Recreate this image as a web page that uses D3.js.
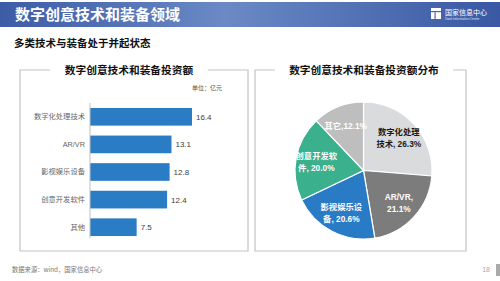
<!DOCTYPE html>
<html>
<head>
<meta charset="utf-8">
<script src="https://cdn.jsdelivr.net/npm/d3@7"></script>
<style>
  body { margin: 0; background: #fff; }
  svg { display: block; font-family: "Noto Sans CJK SC", "Noto Sans", sans-serif; }
</style>
</head>
<body>
<div id="chart"></div>
<script>
// data
const barCategories = ['数字化处理技术', 'AR/VR', '影视娱乐设备', '创意开发软件', '其他'];
const barValues = [16.4, 13.1, 12.8, 12.4, 7.5];

const pieCategories = ['数字化处理技术', 'AR/VR', '影视娱乐设备', '创意开发软件', '其它'];
const pieShares = [26.3, 21.1, 20.6, 20.0, 12.1];
const pieLabelLines = [
  ['数字化处理', '技术, 26.3%'],
  ['AR/VR,', '21.1%'],
  ['影视娱乐设', '备, 20.6%'],
  ['创意开发软', '件, 20.0%'],
  ['其它,12.1%']
];

const W = 500, H = 281;
const latin = '"Liberation Sans", "Noto Sans CJK SC", sans-serif';
const svg = d3.select('#chart').append('svg')
  .attr('width', W).attr('height', H);

// 1. header band
const defs = svg.append('defs');
const grad = defs.append('linearGradient').attr('id', 'hdr');
grad.append('stop').attr('offset', '0%').attr('stop-color', '#3d5ca6');
grad.append('stop').attr('offset', '45%').attr('stop-color', '#6a89c5');
grad.append('stop').attr('offset', '100%').attr('stop-color', '#3a58a3');

svg.append('rect').attr('x', 0).attr('y', 2).attr('width', W).attr('height', 25)
  .attr('fill', 'url(#hdr)');
svg.append('text').attr('x', 15).attr('y', 20)
  .attr('fill', '#fff').attr('font-size', 15).attr('font-weight', 'bold')
  .text('数字创意技术和装备领域');

// logo
const logo = svg.append('g').attr('transform', 'translate(431,8)');
logo.append('rect').attr('x', 0).attr('y', 0).attr('width', 10).attr('height', 11).attr('fill', '#fff');
logo.append('rect').attr('x', 0).attr('y', 3).attr('width', 10).attr('height', 1.2).attr('fill', '#4a6ab0');
logo.append('rect').attr('x', 3.5).attr('y', 4.2).attr('width', 1.2).attr('height', 7).attr('fill', '#4a6ab0');
logo.append('text').attr('x', 14).attr('y', 6.5).attr('fill', '#fff')
  .attr('font-size', 7).text('国家信息中心');
logo.append('text').attr('x', 14).attr('y', 11.5).attr('fill', '#dfe6f5')
  .attr('font-size', 3).text('State Information Center');

// subtitle
svg.append('text').attr('x', 14).attr('y', 47)
  .attr('fill', '#111').attr('font-size', 10.5).attr('font-weight', 'bold')
  .text('多类技术与装备处于并起状态');

// 2. panel frames
function frame(x0, x1, y0, y1, gapL, gapR, title, cx) {
  const g = svg.append('g').attr('fill', 'none').attr('stroke', '#c4c4c4').attr('stroke-width', 1.2);
  g.append('path').attr('d', `M${gapL},${y0} H${x0} V${y1} H${x1} V${y0} H${gapR}`);
  svg.append('text').attr('x', cx).attr('y', y0 + 4)
    .attr('text-anchor', 'middle').attr('fill', '#111')
    .attr('font-size', 10.7).attr('font-weight', 'bold').text(title);
}
frame(20, 248, 70, 251, 50, 208, '数字创意技术和装备投资额', 129);
frame(255, 466, 70, 251, 275, 453, '数字创意技术和装备投资额分布', 364);

// 3. bar chart
const x = d3.scaleLinear().domain([0, 16.4]).range([90, 192]);
const y = d3.scaleBand().domain(barCategories).range([103, 241]).paddingInner(0.36).paddingOuter(0.18);

svg.append('text').attr('x', 222).attr('y', 90).attr('text-anchor', 'end')
  .attr('fill', '#555').attr('font-size', 6).text('单位：亿元');

svg.selectAll('.bar').data(barValues).enter().append('rect')
  .attr('x', x(0))
  .attr('y', (d, i) => y(barCategories[i]))
  .attr('width', d => x(d) - x(0))
  .attr('height', y.bandwidth())
  .attr('fill', '#2a7dc5');

const yAxis = svg.append('g').attr('transform', `translate(${x(0)},0)`)
  .call(d3.axisLeft(y).tickSize(0).tickPadding(5));
yAxis.select('.domain').attr('stroke', '#bfbfbf').attr('d', 'M0,103V238');
yAxis.selectAll('text').attr('fill', '#666').attr('font-size', 7.3)
  .attr('font-family', latin);

svg.selectAll('.val').data(barValues).enter().append('text')
  .attr('x', d => x(d) + 4)
  .attr('y', (d, i) => y(barCategories[i]) + y.bandwidth() / 2 + 3)
  .attr('fill', '#404040').attr('font-size', 8).attr('font-family', latin)
  .text(d => d.toFixed(1));

// 4. pie chart
const pieColors = ['#dadbdd', '#7c7c7c', '#2a7bc5', '#3bb08c', '#bebebe'];
const textColors = ['#1a1a1a', '#fff', '#fff', '#fff', '#fff'];
const pie = d3.pie().sort(null).value(d => d)(pieShares);
const R = 68.5;
const arc = d3.arc().innerRadius(0).outerRadius(R);
const labelArc = d3.arc().innerRadius(48).outerRadius(48);

const pg = svg.append('g').attr('transform', 'translate(363.5,170.5)');
pg.selectAll('path').data(pie).enter().append('path')
  .attr('d', arc)
  .attr('fill', (d, i) => pieColors[i])
  .attr('stroke', '#fff').attr('stroke-width', 1.2);

pg.selectAll('.lbl').data(pie).enter().append('text')
  .attr('transform', d => `translate(${labelArc.centroid(d)})`)
  .attr('text-anchor', 'middle')
  .attr('fill', (d, i) => textColors[i])
  .attr('font-size', 8.3).attr('font-weight', 'bold').attr('font-family', latin)
  .each(function (d, i) {
    const lines = pieLabelLines[i];
    const t = d3.select(this);
    lines.forEach((l, j) => {
      t.append('tspan').attr('x', 0)
        .attr('y', (j - (lines.length - 1) / 2) * 12 + 3)
        .text(l);
    });
  });

// 5. footer
svg.append('text').attr('x', 12).attr('y', 272)
  .attr('fill', '#777').attr('font-size', 6.3).text('数据来源：wind，国家信息中心');
svg.append('text').attr('x', 490).attr('y', 272).attr('text-anchor', 'end')
  .attr('fill', '#aaa').attr('font-size', 7).attr('font-family', latin).text('18');
svg.append('rect').attr('x', 496).attr('y', 264).attr('width', 4).attr('height', 12).attr('fill', '#aaa');
</script>
</body>
</html>
